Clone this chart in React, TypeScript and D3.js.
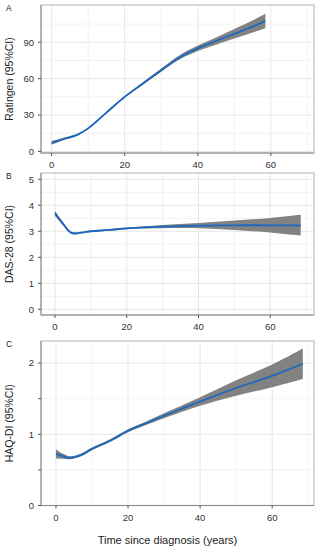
import React from "react";
import * as d3 from "d3";

// Panel A: Ratingen
const yearsA = [0, 3, 7, 10, 15, 20, 25, 30, 35, 40, 45, 50, 55, 58.5];
const meanA = [7, 10, 13.7, 19, 32, 45, 56, 67, 77.5, 85, 91, 97, 103, 107.5];
const halfA = [1.5, 1, 0.8, 0.8, 0.8, 0.8, 1, 1.3, 1.8, 2.3, 3, 4, 5, 6];

// Panel B: DAS-28
const yearsB = [0, 2, 4, 5, 6, 8, 10, 15, 20, 25, 30, 40, 50, 60, 68.5];
const meanB = [3.69, 3.33, 2.99, 2.92, 2.92, 2.96, 3.0, 3.05, 3.11, 3.15, 3.18, 3.22, 3.23, 3.23, 3.23];
const halfB = [0.1, 0.06, 0.04, 0.04, 0.04, 0.03, 0.03, 0.03, 0.03, 0.04, 0.06, 0.1, 0.18, 0.28, 0.4];

// Panel C: HAQ-DI
const yearsC = [0, 2, 4, 7, 10, 15, 20, 25, 30, 40, 50, 60, 68.5];
const meanC = [0.725, 0.69, 0.67, 0.71, 0.795, 0.91, 1.05, 1.155, 1.26, 1.46, 1.65, 1.82, 1.99];
const halfC = [0.065, 0.035, 0.02, 0.02, 0.02, 0.02, 0.02, 0.025, 0.035, 0.06, 0.11, 0.16, 0.215];

const xTicks = [0, 20, 40, 60];
const xMinor = [10, 30, 50, 70];
const yTicksA = [0, 30, 60, 90];
const yMinorA = [15, 45, 75, 105];
const yTicksB = [0, 1, 2, 3, 4, 5];
const yMinorB = [0.5, 1.5, 2.5, 3.5, 4.5];
const yTicksC = [0, 1, 2];
const yMinorC = [0.5, 1.5];

const titles = ["Ratingen (95%CI)", "DAS-28 (95%CI)", "HAQ-DI (95%CI)"];
const letters = ["A", "B", "C"];
const xTitle = "Time since diagnosis (years)";

const FONT = "'Liberation Sans', Arial, sans-serif";

type PanelProps = {
  letter: string;
  title: string;
  years: number[];
  mean: number[];
  half: number[];
  xDomain: [number, number];
  yDomain: [number, number];
  top: number;
  bottom: number;
  yTicks: number[];
  yMinor: number[];
  minorTickMarks?: boolean;
};

function Panel(p: PanelProps) {
  const left = 41;
  const right = 314;
  const x = d3.scaleLinear().domain(p.xDomain).range([left, right]);
  const y = d3.scaleLinear().domain(p.yDomain).range([p.bottom, p.top]);
  const idx = p.years.map((_, i) => i);
  const area = d3
    .area<number>()
    .x((i) => x(p.years[i]))
    .y0((i) => y(p.mean[i] - p.half[i]))
    .y1((i) => y(p.mean[i] + p.half[i]))
    .curve(d3.curveCatmullRom.alpha(0.5));
  const line = d3
    .line<number>()
    .x((i) => x(p.years[i]))
    .y((i) => y(p.mean[i]))
    .curve(d3.curveCatmullRom.alpha(0.5));
  const midY = (p.top + p.bottom) / 2;
  return (
    <g>
      <defs>
        <clipPath id={"clip" + p.letter}>
          <rect x={left} y={p.top} width={right - left} height={p.bottom - p.top} />
        </clipPath>
      </defs>
      <rect x={left} y={p.top} width={right - left} height={p.bottom - p.top} fill="#fff" />
      {xMinor.map((t) => (
        <line key={"xm" + t} x1={x(t)} x2={x(t)} y1={p.top} y2={p.bottom} stroke="#f2f2f2" strokeWidth={1} />
      ))}
      {p.yMinor.map((t) => (
        <line key={"ym" + t} x1={left} x2={right} y1={y(t)} y2={y(t)} stroke="#f2f2f2" strokeWidth={1} />
      ))}
      {xTicks.map((t) => (
        <line key={"xg" + t} x1={x(t)} x2={x(t)} y1={p.top} y2={p.bottom} stroke="#e6e6e6" strokeWidth={1} />
      ))}
      {p.yTicks.map((t) => (
        <line key={"yg" + t} x1={left} x2={right} y1={y(t)} y2={y(t)} stroke="#e6e6e6" strokeWidth={1} />
      ))}
      <g clipPath={`url(#clip${p.letter})`}>
        <path d={area(idx) || ""} fill="#828282" />
        <path d={line(idx) || ""} fill="none" stroke="#1a68c2" strokeWidth={1.8} />
      </g>
      <rect x={left} y={p.top} width={right - left} height={p.bottom - p.top} fill="none" stroke="#c4c4c4" strokeWidth={1.3} />
      <line x1={left} x2={left} y1={p.top} y2={p.bottom} stroke="#8c8c8c" strokeWidth={1} />
      <line x1={left} x2={right} y1={p.bottom} y2={p.bottom} stroke="#8c8c8c" strokeWidth={1} />
      {p.yTicks.map((t) => (
        <g key={"yt" + t}>
          <line x1={left - 3} x2={left} y1={y(t)} y2={y(t)} stroke="#555" strokeWidth={1} />
          <text x={left - 7} y={y(t)} dy="0.35em" textAnchor="end" fontSize={9.5} fill="#333" fontFamily={FONT}>
            {t}
          </text>
        </g>
      ))}
      {p.minorTickMarks &&
        p.yMinor.map((t) => (
          <line key={"ymt" + t} x1={left - 3} x2={left} y1={y(t)} y2={y(t)} stroke="#555" strokeWidth={1} />
        ))}
      {xTicks.map((t) => (
        <g key={"xt" + t}>
          <line x1={x(t)} x2={x(t)} y1={p.bottom} y2={p.bottom + 3} stroke="#555" strokeWidth={1} />
          <text x={x(t)} y={p.bottom + 12} dy="0.35em" textAnchor="middle" fontSize={9.5} fill="#333" fontFamily={FONT}>
            {t}
          </text>
        </g>
      ))}
      <text x={6} y={p.top + 6} fontSize={8.5} fill="#222" fontFamily={FONT}>
        {p.letter}
      </text>
      <text
        transform={`translate(12.5,${midY}) rotate(-90)`}
        textAnchor="middle"
        fontSize={10.5}
        fill="#222"
        fontFamily={FONT}
      >
        {p.title}
      </text>
    </g>
  );
}

export default function App() {
  return (
    <svg
      width={322}
      height={550}
      style={{ position: "absolute", left: 0, top: 0, background: "#fff" }}
    >
      <rect width={322} height={550} fill="#fff" />
      <Panel
        letter={letters[0]}
        title={titles[0]}
        years={yearsA}
        mean={meanA}
        half={halfA}
        xDomain={[-2.9, 71.8]}
        yDomain={[-1.3, 120.7]}
        top={5}
        bottom={153}
        yTicks={yTicksA}
        yMinor={yMinorA}
      />
      <Panel
        letter={letters[1]}
        title={titles[1]}
        years={yearsB}
        mean={meanB}
        half={halfB}
        xDomain={[-3.9, 72.2]}
        yDomain={[-0.22, 5.24]}
        top={173}
        bottom={315}
        yTicks={yTicksB}
        yMinor={yMinorB}
      />
      <Panel
        letter={letters[2]}
        title={titles[2]}
        years={yearsC}
        mean={meanC}
        half={halfC}
        xDomain={[-4.15, 71.6]}
        yDomain={[0, 2.31]}
        top={341}
        bottom={505.5}
        yTicks={yTicksC}
        yMinor={yMinorC}
        minorTickMarks={true}
      />
      <text x={167.5} y={544} textAnchor="middle" fontSize={11} fill="#222" fontFamily={FONT}>
        {xTitle}
      </text>
    </svg>
  );
}
